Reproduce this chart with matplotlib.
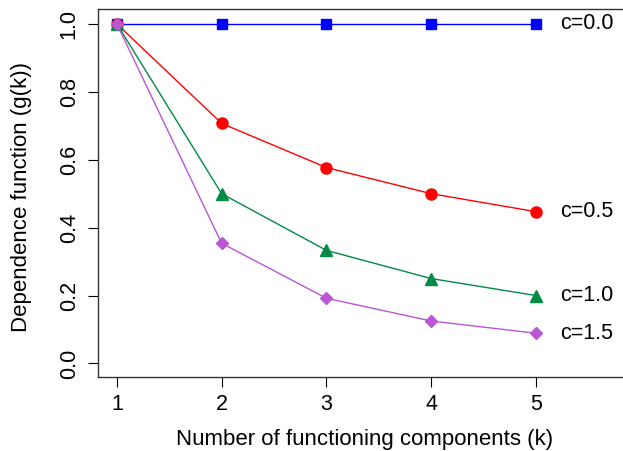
import numpy as np
import matplotlib.pyplot as plt

k = [1, 2, 3, 4, 5]
g_c00 = [1.0, 1.0, 1.0, 1.0, 1.0]
g_c05 = [1.0, 0.707, 0.577, 0.500, 0.447]
g_c10 = [1.0, 0.500, 0.333, 0.250, 0.200]
g_c15 = [1.0, 0.354, 0.192, 0.125, 0.089]
labels = ["c=0.0", "c=0.5", "c=1.0", "c=1.5"]

plt.rcParams['font.family'] = ['Liberation Sans', 'DejaVu Sans']

fig = plt.figure(figsize=(6.23, 4.51), dpi=100)
ax = fig.add_axes([0.1573, 0.164, 0.8411, 0.816])

series = [
    (g_c00, "#0000FF", "s", 6.5),
    (g_c05, "#FF0000", "o", 8),
    (g_c10, "#008B45", "^", 8),
    (g_c15, "#BA55D3", "D", 6.5),
]
for (vals, col, mk, ms), lab in zip(series, labels):
    ax.plot(k, vals, color=col, lw=1, marker=mk, ms=ms, mec=col, mfc=col)
    ax.text(5.23, vals[-1], lab, ha="left", va="center", fontsize=15.5)

ax.set_xlim(0.82, 5.82)
ax.set_ylim(-0.04, 1.044)
ax.set_xticks(k)
ax.set_yticks([0.0, 0.2, 0.4, 0.6, 0.8, 1.0])
ax.set_yticklabels(["0.0", "0.2", "0.4", "0.6", "0.8", "1.0"], rotation=90, va="center")
ax.tick_params(labelsize=15.5, length=7.2, width=0.8)
ax.tick_params(axis='x', pad=5)
ax.tick_params(axis='y', pad=6)
ax.spines['right'].set_visible(False)
for s in ['left', 'top', 'bottom']:
    ax.spines[s].set_linewidth(1)
    ax.spines[s].set_color("#333333")

fig.text(365 / 623, 1 - 439 / 451, "Number of functioning components (k)",
         ha="center", va="center", fontsize=16)
fig.text(22 / 623, 1 - 197 / 451, "Dependence function (g(k))",
         ha="center", va="center", rotation=90, fontsize=16)

plt.savefig("out.png", dpi=100)
